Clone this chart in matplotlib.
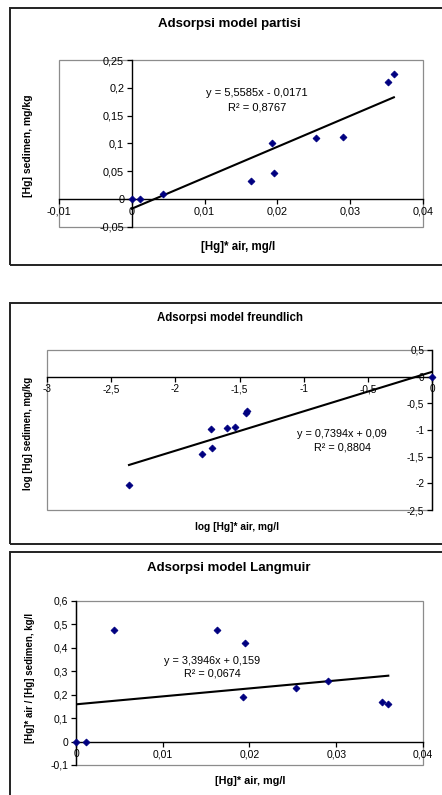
import matplotlib
matplotlib.use("Agg")
import matplotlib.pyplot as plt
from matplotlib.patches import Rectangle
from matplotlib.ticker import FuncFormatter

plt.rcParams["font.family"] = ["Liberation Sans", "DejaVu Sans"]

W, H = 442, 795

# -------- data --------
# partisi
part_x = [0.0, 0.0011, 0.0043, 0.0164, 0.0192, 0.0195, 0.0253, 0.0290, 0.0352, 0.0360]
part_y = [0.0, 0.0, 0.010, 0.033, 0.101, 0.047, 0.110, 0.112, 0.211, 0.224]
part_slope, part_icpt, part_r2 = 5.5585, -0.0171, "0,8767"
part_xticks = [-0.01, 0.0, 0.01, 0.02, 0.03, 0.04]
part_yticks = [-0.05, 0.0, 0.05, 0.10, 0.15, 0.20, 0.25]

# freundlich
freu_x = [-2.361, -1.790, -1.722, -1.712, -1.597, -1.535, -1.452, -1.444, 0.0]
freu_y = [-2.04, -1.456, -0.99, -1.337, -0.96, -0.94, -0.68, -0.65, 0.0]
freu_slope, freu_icpt, freu_r2 = 0.7394, 0.09, "0,8804"
freu_xticks = [-3, -2.5, -2, -1.5, -1, -0.5, 0]
freu_yticks = [-2.5, -2, -1.5, -1, -0.5, 0, 0.5]

# langmuir
lang_x = [0.0, 0.00115, 0.0044, 0.0163, 0.0192, 0.0195, 0.0254, 0.0291, 0.0353, 0.0360]
lang_y = [0.0, 0.0, 0.477, 0.477, 0.190, 0.420, 0.229, 0.258, 0.168, 0.161]
lang_slope, lang_icpt, lang_r2 = 3.3946, 0.159, "0,0674"
lang_xticks = [0.0, 0.01, 0.02, 0.03, 0.04]
lang_yticks = [-0.1, 0.0, 0.1, 0.2, 0.3, 0.4, 0.5, 0.6]

NAVY = "#000080"
GRAY = "#8c8c8c"
MS = 3.5   # marker size (diamond)


def comma(v, pos=None):
    if abs(v) < 1e-12:
        return "0"
    return f"{v:g}".replace(".", ",")


def fx(x):
    return x / W


def fy(y):
    return 1 - y / H


def make_axes(l, t, r, b):
    return fig.add_axes([fx(l), fy(b), (r - l) / W, (b - t) / H])


def fmt_num(v):
    return f"{v:.4f}".rstrip("0").replace(".", ",")


def style(ax, xticks, yticks, fs):
    ax.set_xlim(xticks[0], xticks[-1])
    ax.set_ylim(yticks[0], yticks[-1])
    ax.set_xticks(xticks)
    ax.set_yticks(yticks)
    ax.xaxis.set_major_formatter(FuncFormatter(comma))
    ax.yaxis.set_major_formatter(FuncFormatter(comma))
    ax.tick_params(direction="out", length=3.5, width=0.9, labelsize=fs, pad=2,
                   colors="black")
    for s in ["top", "right"]:
        ax.spines[s].set_visible(False)
    for s in ["left", "bottom"]:
        ax.spines[s].set_color("black")
        ax.spines[s].set_linewidth(1.0)
        ax.spines[s].set_position(("data", 0))
    ax.add_patch(Rectangle((0, 0), 1, 1, transform=ax.transAxes, fill=False,
                           edgecolor=GRAY, linewidth=0.9, clip_on=False, zorder=0))


def scatter_fit(ax, xs, ys, slope, icpt, x0, x1):
    ax.plot(xs, ys, "D", color=NAVY, markersize=MS, markeredgewidth=0.6,
            zorder=3, clip_on=False)
    lx = [x0, x1]
    ax.plot(lx, [slope * v + icpt for v in lx], color="black", lw=1.5, zorder=2)


fig = plt.figure(figsize=(W / 100, H / 100), dpi=100)

# chart frames
for (t, b) in [(8, 265), (303, 544), (552, 812)]:
    fig.add_artist(Rectangle((fx(10), fy(b)), fx(445) - fx(10), fy(t) - fy(b),
                             transform=fig.transFigure, fill=False,
                             edgecolor="#222222", linewidth=1.4))

# ---- chart 1: partisi ----
ax1 = make_axes(59, 60, 423, 227)
style(ax1, part_xticks, part_yticks, 7.8)
scatter_fit(ax1, part_x, part_y, part_slope, part_icpt, 0.0, max(part_x))
fig.text(fx(229), fy(24), "Adsorpsi model partisi", ha="center", va="center",
         fontsize=9.5, fontweight="bold")
fig.text(fx(238), fy(247), "[Hg]* air, mg/l", ha="center", va="center",
         fontsize=8.3, fontweight="bold")
fig.text(fx(28), fy(146), "[Hg] sedimen, mg/kg", ha="center", va="center",
         rotation=90, fontsize=7.5, fontweight="bold")
fig.text(fx(257), fy(93), "y = " + fmt_num(part_slope) + "x - " + fmt_num(-part_icpt),
         ha="center", va="center", fontsize=8)
fig.text(fx(257), fy(108), "R² = " + part_r2, ha="center", va="center", fontsize=8)

# ---- chart 2: freundlich ----
ax2 = make_axes(47, 350, 432, 510)
style(ax2, freu_xticks, freu_yticks, 7.2)
scatter_fit(ax2, freu_x, freu_y, freu_slope, freu_icpt, min(freu_x), 0.0)
fig.text(fx(230), fy(318), "Adsorpsi model freundlich", ha="center", va="center",
         fontsize=8.3, fontweight="bold")
fig.text(fx(237), fy(527), "log [Hg]* air, mg/l", ha="center", va="center",
         fontsize=7.3, fontweight="bold")
fig.text(fx(28), fy(433), "log [Hg] sedimen, mg/kg", ha="center", va="center",
         rotation=90, fontsize=7, fontweight="bold")
fig.text(fx(342), fy(434), "y = " + fmt_num(freu_slope) + "x + " + fmt_num(freu_icpt),
         ha="center", va="center", fontsize=7.8)
fig.text(fx(342), fy(448), "R² = " + freu_r2, ha="center", va="center", fontsize=7.8)

# ---- chart 3: langmuir ----
ax3 = make_axes(76, 601, 423, 765)
style(ax3, lang_xticks, lang_yticks, 7.5)
scatter_fit(ax3, lang_x, lang_y, lang_slope, lang_icpt, 0.0, max(lang_x))
fig.text(fx(229), fy(568), "Adsorpsi model Langmuir", ha="center", va="center",
         fontsize=9.5, fontweight="bold")
fig.text(fx(250), fy(781), "[Hg]* air, mg/l", ha="center", va="center",
         fontsize=7.8, fontweight="bold")
fig.text(fx(30), fy(678), "[Hg]* air / [Hg] sedimen, kg/l", ha="center", va="center",
         rotation=90, fontsize=7, fontweight="bold")
fig.text(fx(212), fy(661), "y = " + fmt_num(lang_slope) + "x + " + fmt_num(lang_icpt),
         ha="center", va="center", fontsize=7.8)
fig.text(fx(212), fy(673), "R² = " + lang_r2, ha="center", va="center", fontsize=7.8)

fig.savefig("out.png", dpi=100)
